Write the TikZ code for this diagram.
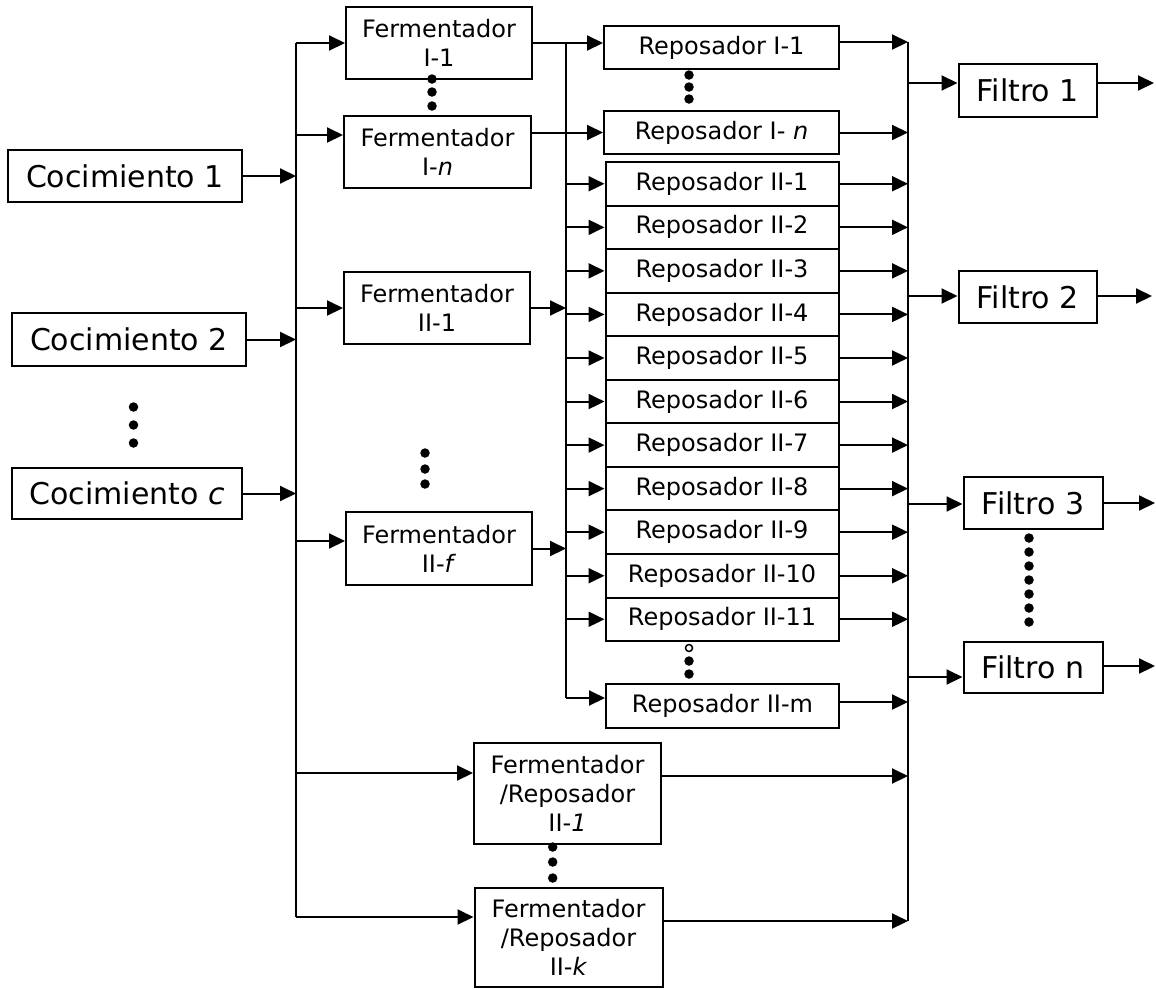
\documentclass[tikz,border=0pt]{standalone}
\usepackage{fontspec}
\setmainfont{DejaVu Sans}
\usetikzlibrary{arrows.meta}
\begin{document}
\begin{tikzpicture}[x=1pt,y=-1pt,
  line width=2pt,
  box/.style={draw, line width=2pt, inner sep=0pt, align=center, anchor=center},
  big/.style={box, font=\fontsize{30}{36}\selectfont},
  small/.style={box, font=\fontsize{24}{29}\selectfont},
  arr/.style={-{Triangle[length=16pt,width=15pt]}},
  bigdot/.style={fill, circle, inner sep=0pt, minimum size=9.5pt},
  ring/.style={draw, circle, inner sep=0pt, minimum size=7pt, line width=1.5pt},
]
\useasboundingbox (0,0) rectangle (1156,989);

% ---- brews (Cocimiento) ----
\node[big, minimum width=234pt, minimum height=52pt] (coc1) at (125,176) {Cocimiento 1};
\node[big, minimum width=234pt, minimum height=53pt] (coc2) at (129,339.5) {Cocimiento 2};
\node[big, minimum width=230pt, minimum height=51pt] (cocc) at (127,493.5) {Cocimiento \textit{c}};
\foreach \y [count=\k] in {407,425,443} \node[bigdot] (dc\k) at (133.5,\y) {};

% ---- fermenters ----
\node[small, minimum width=186pt, minimum height=72pt] (fI1) at (439,43) {Fermentador\\I-1};
\node[small, minimum width=187pt, minimum height=72pt] (fIn) at (437.5,152) {Fermentador\\I-\textit{n}};
\node[small, minimum width=186pt, minimum height=72pt] (fII1) at (437,308) {Fermentador\\II-1};
\node[small, minimum width=186pt, minimum height=73pt] (fIIf) at (439,548.5) {Fermentador\\II-\textit{f}};
\foreach \y [count=\k] in {79,92,106} \node[bigdot] (df\k) at (432,\y) {};
\foreach \y [count=\k] in {453,469,484} \node[bigdot] (dg\k) at (425,\y) {};

% ---- combined fermenter/rester units ----
\node[small, minimum width=187pt, minimum height=101pt] (fr1) at (567.5,793.5) {Fermentador\\/Reposador\\II-\textit{1}};
\node[small, minimum width=188pt, minimum height=99pt] (frk) at (568.5,937.5) {Fermentador\\/Reposador\\II-\textit{k}};
\foreach \y [count=\k] in {847,862,878} \node[bigdot] (dr\k) at (552.7,\y) {};

% ---- resters (Reposador) ----
\node[small, minimum width=235pt, minimum height=43pt] (rI1) at (721.5,47.5) {Reposador I-1};
\node[small, minimum width=235pt, minimum height=43pt] (rIn) at (721.5,132.5) {Reposador I- \textit{n}};
\foreach \y [count=\k] in {75,87,99} \node[bigdot] (dq\k) at (689,\y) {};
\foreach \i in {1,...,11}
  \node[small, minimum width=233pt, minimum height=43.55pt] (rII\i) at (722,{162+43.55*(\i-0.5)}) {Reposador II-\i};
\node[small, minimum width=233pt, minimum height=44pt] (rIIm) at (722.5,706) {Reposador II-m};
\node[ring] (ds1) at (689,648) {};
\foreach \y [count=\k] in {661,674} \node[bigdot] (ds\the\numexpr\k+1\relax) at (689,\y) {};

% ---- filters ----
\node[big, minimum width=138.5pt, minimum height=53pt] (f1) at (1027.75,90.5) {Filtro 1};
\node[big, minimum width=138.5pt, minimum height=52pt] (f2) at (1027.75,297) {Filtro 2};
\node[big, minimum width=139pt, minimum height=52pt] (f3) at (1033,503) {Filtro 3};
\node[big, minimum width=139pt, minimum height=51pt] (fn) at (1033,667.5) {Filtro n};
\foreach \y [count=\k] in {538,552,566,580,594,608,622} \node[bigdot] (dt\k) at (1029,\y) {};

% ---- collecting buses ----
\coordinate (b1top) at (296,43);
\coordinate (b1bot) at (296,917);
\coordinate (b2top) at (566,43);
\coordinate (b2bot) at (566,698);
\coordinate (b3top) at (908,42);
\coordinate (b3bot) at (908,921);
\draw (b1top) -- (b1bot);
\draw (b2top) -- (b2bot);
\draw (b3top) -- (b3bot);

% brews into bus 1
\foreach \n in {coc1,coc2,cocc} \draw[arr] (\n.east) -- (b1top |- \n.east);

% bus 1 into fermenters
\coordinate (a2) at (296,135);
\coordinate (a4) at (296,541);
\coordinate (a5) at (296,773);
\draw[arr] (b1top) -- (b1top -| fI1.west);
\draw[arr] (a2) -- (a2 -| fIn.west);
\draw[arr] (b1top |- fII1.west) -- (fII1.west);
\draw[arr] (a4) -- (a4 -| fIIf.west);
\draw[arr] (a5) -- (a5 -| fr1.west);
\draw[arr] (b1bot) -- (b1bot -| frk.west);

% fermenters into resters / bus 2
\draw[arr] (fI1.east) -- (fI1.east -| rI1.west);
\draw[arr] (fIn.east |- rIn.west) -- (rIn.west);
\draw[arr] (fII1.east) -- (fII1.east -| b2top);
\draw[arr] (fIIf.east) -- (fIIf.east -| b2top);

% bus 2 into resters II
\foreach \i in {1,...,11} \draw[arr] (b2top |- rII\i.west) -- (rII\i.west);
\draw[arr] (b2bot) -- (b2bot -| rIIm.west);

% resters into bus 3
\draw[arr] (b3top -| rI1.east) -- (b3top);
\draw[arr] (rIn.east) -- (b3top |- rIn.east);
\foreach \i in {1,...,11} \draw[arr] (rII\i.east) -- (b3top |- rII\i.east);
\coordinate (o1) at (908,702);
\coordinate (o2) at (908,776);
\draw[arr] (o1 -| rIIm.east) -- (o1);
\draw[arr] (o2 -| fr1.east) -- (o2);
\draw[arr] (b3bot -| frk.east) -- (b3bot);

% bus 3 into filters, filters out
\coordinate (g1) at (908,83);
\coordinate (g2) at (908,296);
\coordinate (g3) at (908,504);
\coordinate (g4) at (908,677);
\coordinate (h1) at (1154,83);
\coordinate (h2) at (1152,296);
\coordinate (h3) at (1155,503);
\coordinate (h4) at (1155,666);
\draw[arr] (g1) -- (g1 -| f1.west);
\draw[arr] (g2) -- (g2 -| f2.west);
\draw[arr] (g3) -- (g3 -| f3.west);
\draw[arr] (g4) -- (g4 -| fn.west);
\draw[arr] (h1 -| f1.east) -- (h1);
\draw[arr] (h2 -| f2.east) -- (h2);
\draw[arr] (h3 -| f3.east) -- (h3);
\draw[arr] (h4 -| fn.east) -- (h4);
\end{tikzpicture}
\end{document}
